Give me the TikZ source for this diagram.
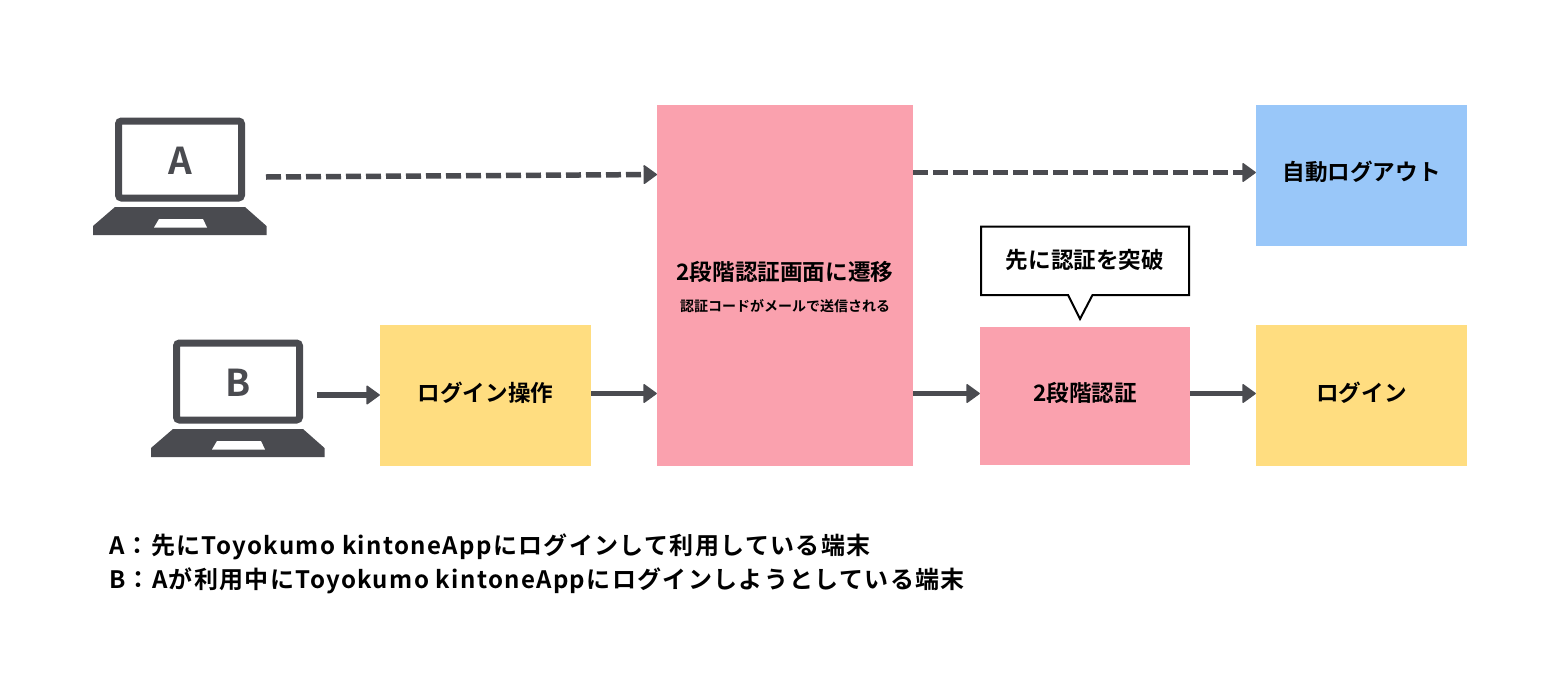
\documentclass[tikz,border=0pt]{standalone}
\usepackage{amsmath}
\usepackage{fontspec}
\setmainfont{Noto Sans CJK JP}[BoldFont=* Bold]
\newfontfamily\legendfont{Noto Sans CJK JP Bold}[LetterSpace=5.6]
\usetikzlibrary{arrows.meta}
\definecolor{darkgray}{HTML}{4A4B50}
\definecolor{pinkbox}{HTML}{FAA1AE}
\definecolor{yellowbox}{HTML}{FFDD80}
\definecolor{bluebox}{HTML}{99C7F9}
\tikzset{
    flowarrow/.style={line width=5.5pt,darkgray,-{Triangle[length=14pt,width=20pt,round,line width=1.5pt]}},
    dasharrow/.style={flowarrow,dash pattern=on 15pt off 5pt},
    boxtext/.style={font=\bfseries\fontsize{22.6}{26}\selectfont,text=black},
    legendtext/.style={anchor=west,inner sep=0pt,font=\legendfont\fontsize{24}{26}\selectfont,text=black},
    laptop/.pic={
        \draw[darkgray,line width=7pt,rounded corners=3pt] (-61.5,-39) rectangle (61.5,38);
        \fill[darkgray] (-65,47) -- (65,47) -- (86.5,66) -- (86.5,75) -- (-87,75) -- (-87,66) -- cycle;
        \fill[white] (-26,67.5) -- (-21,59) -- (23,59) -- (27,67.5) -- cycle;
    }
}
\begin{document}
\begin{tikzpicture}[x=1pt,y=-1pt]
    \useasboundingbox (0,0) rectangle (1550,675);
    \fill[white] (0,0) rectangle (1550,675);

    \pic at (180,160) {laptop};
    \pic at (238,382) {laptop};
    \node[font=\bfseries\fontsize{37}{37}\selectfont,text=darkgray] (labela) at (180.5,161) {A};
    \node[font=\bfseries\fontsize{37}{37}\selectfont,text=darkgray] (labelb) at (238.5,383) {B};

    \node[fill=pinkbox,minimum width=256pt,minimum height=361pt,inner sep=0pt] (screen) at (785,285.5) {};
    \node[fill=yellowbox,minimum width=211pt,minimum height=141pt,inner sep=0pt] (operation) at (485.5,395.5) {};
    \node[fill=pinkbox,minimum width=210pt,minimum height=138pt,inner sep=0pt] (auth) at (1085,396) {};
    \node[fill=yellowbox,minimum width=211pt,minimum height=141pt,inner sep=0pt] (login) at (1361.5,395.5) {};
    \node[fill=bluebox,minimum width=211pt,minimum height=141pt,inner sep=0pt] (logout) at (1361.5,175.5) {};

    \node[boxtext] (logouttext) at (1361.5,172) {自動ログアウト};
    \node[boxtext] (screentext) at (785,272) {2段階認証画面に遷移};
    \node[font=\bfseries\fontsize{14}{16}\selectfont,text=black] (screensub) at (785,306) {認証コードがメールで送信される};
    \node[boxtext] (operationtext) at (485.5,393) {ログイン操作};
    \node[boxtext] (authtext) at (1085,393) {2段階認証};
    \node[boxtext] (logintext) at (1361.5,393) {ログイン};

    % speech bubble
    \draw[black,line width=2pt,fill=white,line join=miter] (981,226.5) -- (1189,226.5) -- (1189,295) -- (1092.5,295) -- (1080,319) -- (1068,295) -- (981,295) -- cycle;
    \node[boxtext] (bubble) at (1085,260) {先に認証を突破};

    \coordinate (starta) at (266,177);
    \coordinate (startb) at (317,395);
    \coordinate (rowa) at (0,172.5);
    \coordinate (rowb) at (0,393.5);
    \coordinate (enda) at (657,174.5);

    \draw[dasharrow] (starta) -- (enda);
    \draw[dasharrow] (screen.east |- rowa) -- (logout.west |- rowa);
    \draw[flowarrow] (startb) -- (operation.west |- startb);
    \draw[flowarrow] (operation.east |- rowb) -- (screen.west |- rowb);
    \draw[flowarrow] (screen.east |- rowb) -- (auth.west |- rowb);
    \draw[flowarrow] (auth.east |- rowb) -- (login.west |- rowb);

    \node[legendtext] (legenda) at (109,547) {A：先にToyokumo kintoneAppにログインして利用している端末};
    \node[legendtext] (legendb) at (109,581) {B：Aが利用中にToyokumo kintoneAppにログインしようとしている端末};
\end{tikzpicture}
\end{document}
